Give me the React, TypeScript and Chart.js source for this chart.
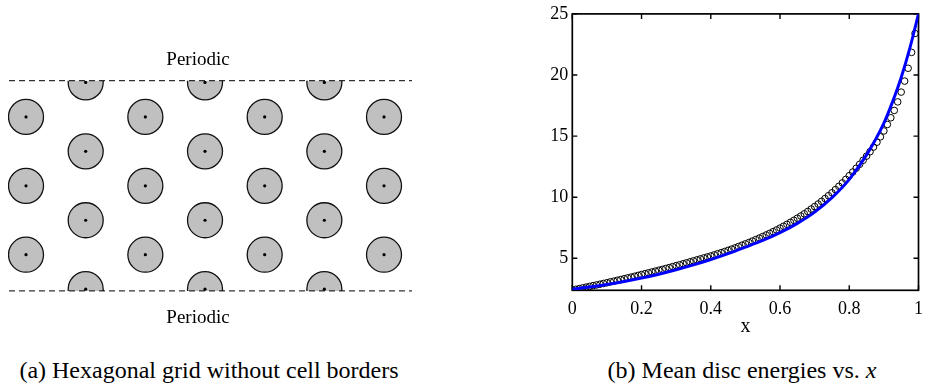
import React, { useEffect, useRef } from "react";
import { Chart, registerables } from "chart.js";
Chart.register(...registerables);

const SERIF = "'Liberation Serif', 'Times New Roman', serif";

// ---------- Panel (a): hexagonal grid of discs ----------
const discX = [0, 0, 0, 2, 2, 2, 4, 4, 4, 6, 6, 6, 1, 1, 1, 1, 3, 3, 3, 3, 5, 5, 5, 5];
const discY = [2, 0, -2, 2, 0, -2, 2, 0, -2, 2, 0, -2, 3, 1, -1, -3, 3, 1, -1, -3, 3, 1, -1, -3];
const gridXRange = [-0.302, 6.469];
const gridYRange = [-3.05, 3.05];
const periodicLineX = [-0.285, 6.469];
const periodicLineY = [3.05, -3.05];
const boundaryLabel = "Periodic";
const captionA = "(a) Hexagonal grid without cell borders";

// ---------- Panel (b): mean disc energies ----------
const sampleX = [
  0.0, 0.01, 0.02, 0.03, 0.04, 0.05, 0.06, 0.07, 0.08, 0.09,
  0.1, 0.11, 0.12, 0.13, 0.14, 0.15, 0.16, 0.17, 0.18, 0.19,
  0.2, 0.21, 0.22, 0.23, 0.24, 0.25, 0.26, 0.27, 0.28, 0.29,
  0.3, 0.31, 0.32, 0.33, 0.34, 0.35, 0.36, 0.37, 0.38, 0.39,
  0.4, 0.41, 0.42, 0.43, 0.44, 0.45, 0.46, 0.47, 0.48, 0.49,
  0.5, 0.51, 0.52, 0.53, 0.54, 0.55, 0.56, 0.57, 0.58, 0.59,
  0.6, 0.61, 0.62, 0.63, 0.64, 0.65, 0.66, 0.67, 0.68, 0.69,
  0.7, 0.71, 0.72, 0.73, 0.74, 0.75, 0.76, 0.77, 0.78, 0.79,
  0.8, 0.81, 0.82, 0.83, 0.84, 0.85, 0.86, 0.87, 0.88, 0.89,
  0.9, 0.91, 0.92, 0.93, 0.94, 0.95, 0.96, 0.97, 0.98, 0.99,
];
const sampleEnergy = [
  2.40, 2.46, 2.52, 2.58, 2.64, 2.70, 2.76, 2.82, 2.88, 2.94,
  3.00, 3.07, 3.13, 3.20, 3.26, 3.33, 3.40, 3.46, 3.53, 3.60,
  3.67, 3.74, 3.81, 3.88, 3.95, 4.02, 4.09, 4.17, 4.24, 4.32,
  4.40, 4.47, 4.55, 4.63, 4.71, 4.79, 4.87, 4.95, 5.03, 5.11,
  5.19, 5.28, 5.37, 5.46, 5.55, 5.65, 5.75, 5.85, 5.96, 6.07,
  6.18, 6.29, 6.41, 6.53, 6.65, 6.78, 6.91, 7.04, 7.18, 7.32,
  7.47, 7.62, 7.78, 7.94, 8.11, 8.28, 8.46, 8.64, 8.83, 9.03,
  9.23, 9.44, 9.66, 9.89, 10.12, 10.36, 10.62, 10.89, 11.17, 11.46,
  11.76, 12.06, 12.37, 12.69, 13.02, 13.36, 13.72, 14.10, 14.50, 14.94,
  15.42, 15.95, 16.50, 17.10, 17.80, 18.60, 19.50, 20.55, 21.85, 23.40,
];
const theoryX = [
  0.0, 0.05, 0.1, 0.15, 0.2, 0.25, 0.3, 0.35, 0.4, 0.45, 0.5, 0.55, 0.6,
  0.65, 0.7, 0.75, 0.8, 0.85, 0.9, 0.925, 0.95, 0.975, 1.0,
];
const theoryEnergy = [
  2.48, 2.65, 2.86, 3.10, 3.38, 3.70, 4.06, 4.46, 4.90, 5.38, 5.91, 6.46, 7.10,
  7.86, 8.78, 9.96, 11.46, 13.46, 16.06, 17.80, 19.80, 22.20, 25.0,
];
const xTicks = [0, 0.2, 0.4, 0.6, 0.8, 1];
const yTicks = [5, 10, 15, 20, 25];
const xRange = [0, 1];
const yRange = [2.38, 25];
const xTitle = "x";
const captionB = "(b) Mean disc energies vs. ";
const captionBVar = "x";

const framePlugin = {
  id: "frameTicks",
  beforeDatasetsDraw(chart: any) {
    const { ctx, chartArea: a, scales } = chart;
    ctx.save();
    ctx.strokeStyle = "#000";
    ctx.lineWidth = 1.7;
    ctx.strokeRect(a.left, a.top, a.right - a.left, a.bottom - a.top);
    const L = 5;
    ctx.lineWidth = 1.4;
    ctx.beginPath();
    for (const v of xTicks) {
      const px = scales.x.getPixelForValue(v);
      ctx.moveTo(px, a.bottom);
      ctx.lineTo(px, a.bottom - L);
      ctx.moveTo(px, a.top);
      ctx.lineTo(px, a.top + L);
    }
    for (const v of yTicks) {
      const py = scales.y.getPixelForValue(v);
      ctx.moveTo(a.left, py);
      ctx.lineTo(a.left + L, py);
      ctx.moveTo(a.right, py);
      ctx.lineTo(a.right - L, py);
    }
    ctx.stroke();
    ctx.restore();
  },
};

function HexGrid() {
  const ref = useRef<HTMLCanvasElement>(null);
  useEffect(() => {
    if (!ref.current) return;
    const discs = discX.map((x, i) => ({ x, y: discY[i] }));
    const dashed = (y: number) =>
      ({
        type: "line",
        data: periodicLineX.map((x) => ({ x, y })),
        borderColor: "#000",
        borderWidth: 1,
        borderDash: [6, 4],
        pointRadius: 0,
        showLine: true,
        clip: false,
      } as any);
    const chart = new Chart(ref.current, {
      type: "scatter",
      data: {
        datasets: [
          dashed(periodicLineY[0]),
          dashed(periodicLineY[1]),
          {
            data: discs,
            pointRadius: 1.6,
            pointHoverRadius: 1.6,
            backgroundColor: "#000",
            borderWidth: 0,
            clip: 0,
          } as any,
          {
            data: discs,
            pointRadius: 17.5,
            pointHoverRadius: 17.5,
            backgroundColor: "#c0c0c0",
            borderColor: "#111",
            borderWidth: 1.3,
            clip: 0,
          } as any,
        ],
      },
      options: {
        animation: false,
        responsive: false,
        events: [],
        layout: { autoPadding: false, padding: { left: 8, right: 13, top: 40.7, bottom: 39.1 } },
        plugins: { legend: { display: false }, tooltip: { enabled: false } },
        scales: {
          x: { type: "linear", display: false, min: gridXRange[0], max: gridXRange[1] },
          y: { type: "linear", display: false, min: gridYRange[0], max: gridYRange[1] },
        },
      } as any,
    });
    return () => chart.destroy();
  }, []);
  return (
    <canvas
      ref={ref}
      width={425}
      height={290}
      style={{ position: "absolute", left: 0, top: 40, width: 425, height: 290 }}
    />
  );
}

function EnergyChart() {
  const ref = useRef<HTMLCanvasElement>(null);
  useEffect(() => {
    if (!ref.current) return;
    const tickFont = { family: SERIF, size: 18 };
    const chart = new Chart(ref.current, {
      type: "scatter",
      data: {
        datasets: [
          {
            type: "line",
            data: theoryX.map((x, i) => ({ x, y: theoryEnergy[i] })),
            borderColor: "#0000ff",
            borderWidth: 3,
            pointRadius: 0,
            showLine: true,
            cubicInterpolationMode: "monotone",
            fill: false,
          } as any,
          {
            data: sampleX.map((x, i) => ({ x, y: sampleEnergy[i] })),
            pointRadius: 3.3,
            pointHoverRadius: 3.3,
            backgroundColor: "rgba(0,0,0,0)",
            borderColor: "#000",
            borderWidth: 1,
          } as any,
        ],
      },
      options: {
        animation: false,
        responsive: false,
        events: [],
        layout: { autoPadding: false, padding: { left: 0, right: 6.5, top: 13.9, bottom: 0 } },
        plugins: { legend: { display: false }, tooltip: { enabled: false } },
        scales: {
          x: {
            type: "linear",
            min: xRange[0],
            max: xRange[1],
            grid: { display: false, drawTicks: false, tickLength: 0 },
            border: { display: false },
            afterBuildTicks: (s: any) => {
              s.ticks = xTicks.map((value) => ({ value }));
            },
            afterFit: (s: any) => {
              s.height = 54.7;
              s.paddingLeft = 0;
              s.paddingRight = 0;
            },
            ticks: {
              font: tickFont,
              color: "#000",
              padding: 8,
              maxRotation: 0,
              autoSkip: false,
              callback: (v: any) => String(v),
            },
            title: {
              display: true,
              text: xTitle,
              font: { family: SERIF, size: 20 },
              color: "#000",
              padding: { top: 0, bottom: 6 },
            },
          },
          y: {
            type: "linear",
            min: yRange[0],
            max: yRange[1],
            grid: { display: false, drawTicks: false, tickLength: 0 },
            border: { display: false },
            afterBuildTicks: (s: any) => {
              s.ticks = yTicks.map((value) => ({ value }));
            },
            afterFit: (s: any) => {
              s.width = 42.3;
              s.paddingTop = 0;
              s.paddingBottom = 0;
            },
            ticks: {
              font: tickFont,
              color: "#000",
              padding: 4,
              autoSkip: false,
              callback: (v: any) => String(v),
            },
          },
        },
      } as any,
      plugins: [framePlugin],
    });
    return () => chart.destroy();
  }, []);
  return (
    <canvas
      ref={ref}
      width={395}
      height={345}
      style={{ position: "absolute", left: 530, top: 0, width: 395, height: 345 }}
    />
  );
}

const textStyle = (x: number, y: number, size: number): React.CSSProperties => ({
  position: "absolute",
  left: x,
  top: y,
  transform: "translate(-50%, -50%)",
  fontFamily: SERIF,
  fontSize: size,
  lineHeight: `${size}px`,
  whiteSpace: "nowrap",
  color: "#000",
});

export default function App() {
  return (
    <div
      style={{
        position: "absolute",
        left: 0,
        top: 0,
        width: 925,
        height: 386,
        background: "#fff",
        overflow: "hidden",
      }}
    >
      <HexGrid />
      <EnergyChart />
      <div style={textStyle(198, 58, 19)}>{boundaryLabel}</div>
      <div style={textStyle(198, 316, 19)}>{boundaryLabel}</div>
      <div style={textStyle(209, 370, 24)}>{captionA}</div>
      <div style={textStyle(742, 370, 24)}>
        {captionB}
        <i>{captionBVar}</i>
      </div>
    </div>
  );
}
